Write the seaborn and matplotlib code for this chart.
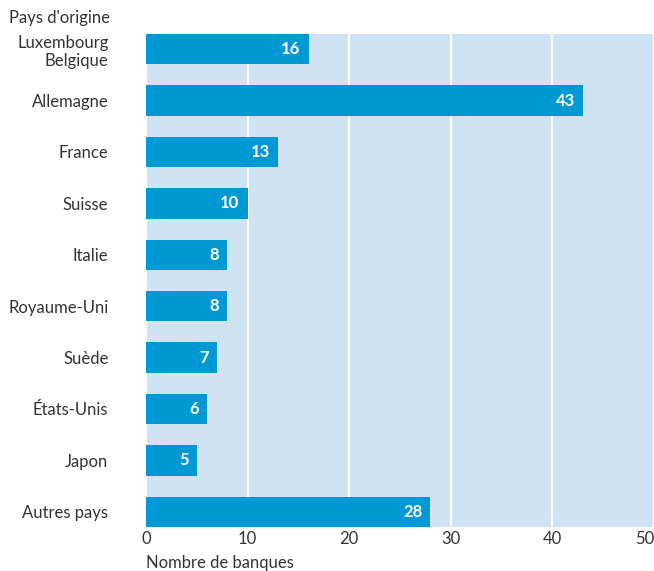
import matplotlib
matplotlib.use('Agg')
import matplotlib.pyplot as plt
import seaborn as sns
import pandas as pd

# Data
countries = ['Luxembourg\nBelgique', 'Allemagne', 'France', 'Suisse', 'Italie',
             'Royaume-Uni', 'Suède', 'États-Unis', 'Japon', 'Autres pays']
banks = [16, 43, 13, 10, 8, 8, 7, 6, 5, 28]
x_ticks = [0, 10, 20, 30, 40, 50]

df = pd.DataFrame({'pays': countries, 'banques': banks})

sns.set_style('white')
plt.rcParams['font.family'] = ['Lato', 'DejaVu Sans']

fig = plt.figure(figsize=(6.54, 5.71), dpi=100)
ax = fig.add_axes([0.2232, 0.0771, 0.7768, 0.8634])
ax.set_facecolor('#cfe3f3')

sns.barplot(data=df, x='banques', y='pays', orient='h', color='#0099d4',
            saturation=1, width=0.59, linewidth=0, ax=ax, zorder=3)

ax.set_xlim(0, 50)
ax.set_ylim(9.295, -0.295)
ax.set_xticks(x_ticks)
ax.grid(axis='x', color='white', linewidth=1.5, zorder=1)
ax.set_axisbelow(True)
for s in ax.spines.values():
    s.set_visible(False)
ax.tick_params(axis='both', length=0, labelsize=12, colors='#333333')
ax.tick_params(axis='x', pad=3)
ax.tick_params(axis='y', pad=27)
for lab in ax.get_yticklabels():
    lab.set_horizontalalignment('right')
    lab.set_multialignment('right')
ax.get_xticklabels()[-1].set_horizontalalignment('right')
ax.set_xlabel('')
ax.set_ylabel('')

for i, v in enumerate(banks):
    ax.text(v - 0.8, i, str(v), ha='right', va='center', color='white',
            fontsize=12, fontweight='bold', zorder=4)

fig.text(0.014, 0.968, "Pays d'origine", fontsize=12, color='#333333',
         ha='left', va='center')
fig.text(0.2232, 0.014, 'Nombre de banques', fontsize=12, color='#333333',
         ha='left', va='center')

fig.savefig('out.png', dpi=100)
